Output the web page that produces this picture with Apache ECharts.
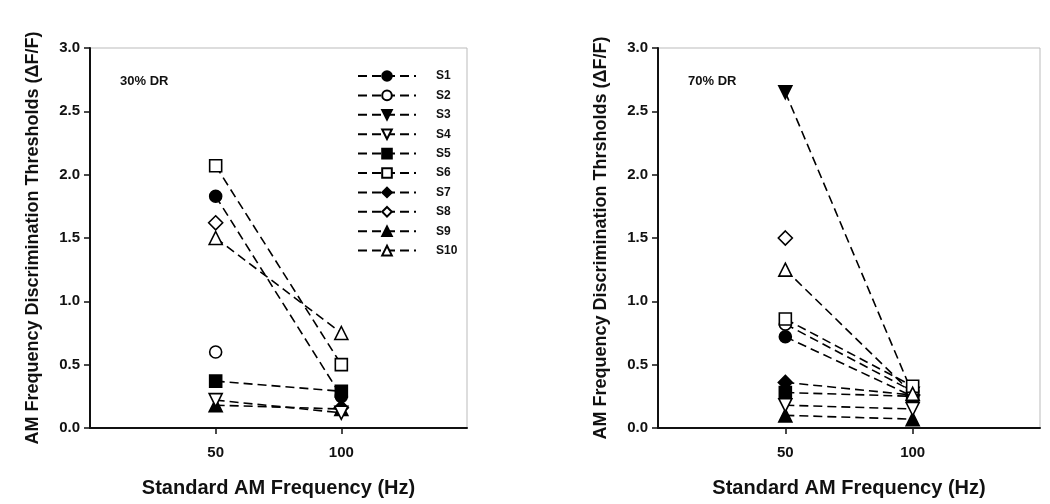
<!DOCTYPE html>
<html>
<head>
<meta charset="utf-8">
<script src="https://cdn.jsdelivr.net/npm/echarts@6/dist/echarts.min.js"></script>
<style>
  html, body { margin: 0; padding: 0; background: #fff; }
  #chart { width: 1050px; height: 504px; }
</style>
</head>
<body>
<div id="chart"></div>
<script>
// data
const frequencies = [50, 100];
const subjects = ['S1', 'S2', 'S3', 'S4', 'S5', 'S6', 'S7', 'S8', 'S9', 'S10'];
const dr30At50  = [1.83, 0.60, null, 0.22, 0.37, 2.07, null, 1.62, 0.18, 1.50];
const dr30At100 = [0.25, null, null, 0.12, 0.29, 0.50, 0.16, null, 0.15, 0.75];
const dr70At50  = [0.72, 0.82, 2.65, 0.18, 0.28, 0.86, 0.36, 1.50, 0.10, 1.25];
const dr70At100 = [0.25, 0.29, 0.27, 0.15, 0.25, 0.33, 0.26, null, 0.07, 0.27];
const yTicks = [0, 0.5, 1.0, 1.5, 2.0, 2.5, 3.0];

// marker per subject: [symbol, filled, rotate]
const markers = [
    ['circle', true, 0], ['circle', false, 0],
    ['triangle', true, 180], ['triangle', false, 180],
    ['rect', true, 0], ['rect', false, 0],
    ['diamond', true, 0], ['diamond', false, 0],
    ['triangle', true, 0], ['triangle', false, 0]
];

const FONT = 'Liberation Sans, Arial, sans-serif';

function makeSeries(at50, at100, idx){
    return subjects.map((name, i) => {
        let m = markers[i];
        let pts = [[frequencies[0], at50[i]], [frequencies[1], at100[i]]];
        return {
            name: name,
            type: 'line',
            xAxisIndex: idx,
            yAxisIndex: idx,
            data: pts,
            symbol: m[0],
            symbolSize: m[0] === 'diamond' ? 14 : (m[0] === 'triangle' ? 13 : 12),
            symbolRotate: m[2],
            showAllSymbol: true,
            z: m[1] ? 2 : 3,
            lineStyle: { color: '#000', width: 1.6, type: [9, 5] },
            itemStyle: {
                color: m[1] ? '#000' : '#fff',
                borderColor: '#000',
                borderWidth: 1.6,
                opacity: 1
            },
            emphasis: { disabled: true },
            animation: false
        };
    });
}

function xAxis(idx){
    return {
        gridIndex: idx,
        type: 'value',
        min: 0, max: 150, interval: 50,
        name: 'Standard AM Frequency (Hz)',
        nameLocation: 'middle',
        nameGap: 50,
        nameTextStyle: { fontFamily: FONT, fontWeight: 'bold', fontSize: 20, color: '#111' },
        axisLine: { lineStyle: { color: '#111', width: 2 } },
        axisTick: { customValues: frequencies, length: 6, lineStyle: { color: '#111', width: 1.5 } },
        axisLabel: { customValues: frequencies, fontFamily: FONT, fontWeight: 'bold', fontSize: 15, color: '#111', margin: 17 },
        splitLine: { show: false }
    };
}

function yAxis(idx, title){
    return {
        gridIndex: idx,
        type: 'value',
        min: 0, max: 3, interval: 0.5,
        name: title,
        nameLocation: 'middle',
        nameGap: 48,
        nameTextStyle: { fontFamily: FONT, fontWeight: 'bold', fontSize: 18, color: '#111' },
        axisLine: { show: true, lineStyle: { color: '#111', width: 2 } },
        axisTick: { show: true, length: 6, lineStyle: { color: '#111', width: 1.5 } },
        axisLabel: {
            fontFamily: FONT, fontWeight: 'bold', fontSize: 15, color: '#111', margin: 10,
            formatter: v => yTicks.indexOf(v) > -1 ? v.toFixed(1) : ''
        },
        splitLine: { show: false }
    };
}

let chart = echarts.init(document.getElementById('chart'), null, { renderer: 'canvas' });
chart.setOption({
    backgroundColor: '#fff',
    animation: false,
    grid: [
        { left: 90, top: 48, width: 377, height: 380, show: true, borderColor: '#bbb', borderWidth: 1, backgroundColor: 'transparent' },
        { left: 658, top: 48, width: 382, height: 380, show: true, borderColor: '#bbb', borderWidth: 1, backgroundColor: 'transparent' }
    ],
    xAxis: [xAxis(0), xAxis(1)],
    yAxis: [
        yAxis(0, 'AM Frequency Discrimination Thresholds (\u0394F/F)'),
        yAxis(1, 'AM Frequency Discrimination Thrsholds (\u0394F/F)')
    ],
    title: [
        { text: '30% DR', left: 115, top: 70, textStyle: { fontFamily: FONT, fontWeight: 'bold', fontSize: 13, color: '#111' } },
        { text: '70% DR', left: 683, top: 70, textStyle: { fontFamily: FONT, fontWeight: 'bold', fontSize: 13, color: '#111' } }
    ],
    legend: {
        data: subjects,
        orient: 'vertical',
        left: 352,
        top: 65,
        itemWidth: 58,
        itemHeight: 12,
        itemGap: 7.4,
        selectedMode: false,
        textStyle: { fontFamily: FONT, fontWeight: 'bold', fontSize: 12, color: '#111', padding: [0, 0, 0, 15] }
    },
    series: makeSeries(dr30At50, dr30At100, 0).concat(makeSeries(dr70At50, dr70At100, 1))
});
</script>
</body>
</html>
